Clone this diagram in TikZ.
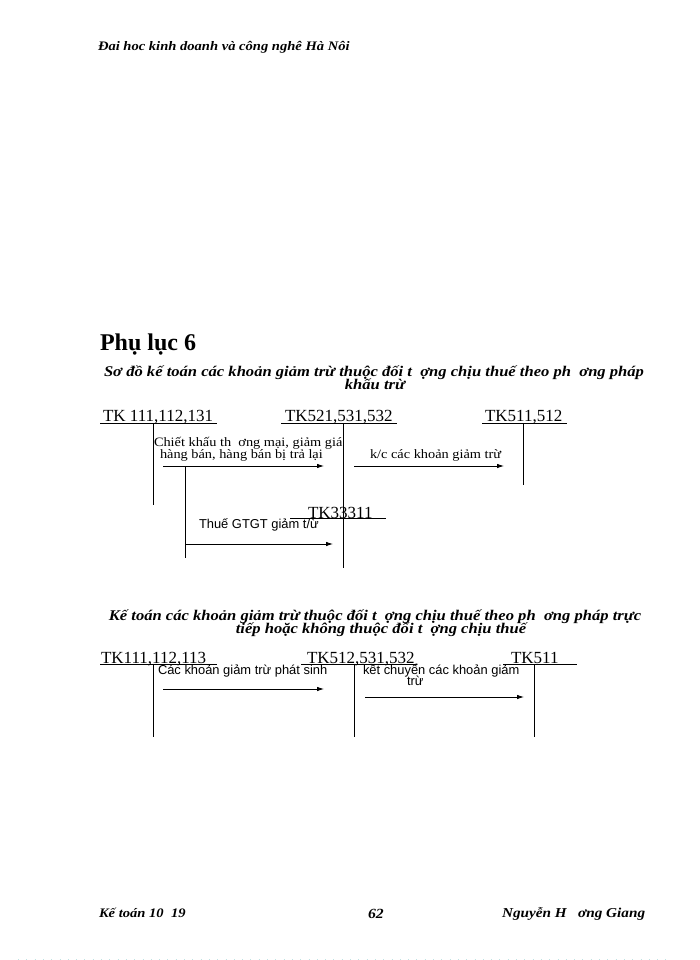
\documentclass[tikz,border=0pt]{standalone}
\usepackage{fontspec}
\setmainfont{Liberation Serif}
\newfontfamily\stf[FakeStretch=1.12]{Liberation Serif}
\newfontfamily\arialf{Liberation Sans}
\usetikzlibrary{arrows.meta}
\definecolor{dotc}{HTML}{BFE3E3}
\begin{document}
\begin{tikzpicture}[x=1pt,y=-1pt,
  every node/.style={inner sep=0pt, outer sep=0pt},
  hdr/.style={anchor=base west, font=\stf\fontsize{13}{14}\selectfont\bfseries\itshape},
  ttl/.style={anchor=base, font=\stf\fontsize{14.8}{14}\selectfont\bfseries\itshape},
  acct/.style={anchor=base west, font=\fontsize{17}{18}\selectfont},
  lbl/.style={anchor=base west, font=\stf\fontsize{12.8}{14}\selectfont},
  slbl/.style={anchor=base west, font=\arialf\fontsize{12.9}{13}\selectfont},
  tline/.style={line width=0.9pt},
  flow/.style={line width=0.8pt, -{Latex[length=7pt,width=4.5pt]}},
]
\useasboundingbox (0,0) rectangle (700,960);

% header
\node[hdr] (head) at (98,51) {Đai hoc kinh doanh và công nghê Hà Nôi};
\node[anchor=base west, font=\fontsize{24}{26}\selectfont\bfseries] (plc) at (100,350) {Phụ lục 6};

% title 1
\node[ttl] (t1a) at (374,376) {Sơ đồ kế toán các khoản giảm trừ thuộc đối t~~ợng chịu thuế theo ph~~ơng pháp};
\node[ttl] (t1b) at (375,389) {khấu trừ};

% diagram 1 accounts
\node[acct] (a1) at (103,421) {TK 111,112,131};
\node[acct] (b1) at (285,421) {TK521,531,532};
\node[acct] (c1) at (485,421) {TK511,512};
\node[acct] (d1) at (308,518) {TK33311};

\draw[tline] (100,423) -- (217,423);
\draw[tline] (153,423) -- (153,505);
\draw[tline] (281,423) -- (397,423);
\draw[tline] (343,423) -- (343,568);
\draw[tline] (482,423) -- (567,423);
\draw[tline] (523,423) -- (523,485);
\draw[tline] (290,518) -- (386,518);

% diagram 1 flows
\node[lbl] (l1a) at (154,446) {Chiết khấu th~~ơng mại, giảm giá};
\node[lbl] (l1b) at (160,458) {hàng bán, hàng bán bị trả lại};
\coordinate (f1s) at (163,466);
\coordinate (f1e) at (324,466);
\draw[flow] (f1s) -- (f1e);

\node[lbl] (l2) at (370,458) {k/c các khoản giảm trừ};
\coordinate (f2s) at (354,466);
\coordinate (f2e) at (504,466);
\draw[flow] (f2s) -- (f2e);

\coordinate (br) at (185,466);
\coordinate (brb) at (185,558);
\draw[tline] (br) -- (brb);
\node[slbl] (l3) at (199,528) {Thuế GTGT giảm t/ừ};
\coordinate (f3s) at (185,544);
\coordinate (f3e) at (333,544);
\draw[flow] (f3s) -- (f3e);

% title 2
\node[ttl] (t2a) at (375,620) {Kế toán các khoản giảm trừ thuộc đối t~~ợng chịu thuế theo ph~~ơng pháp trực};
\node[ttl] (t2b) at (381,633) {tiếp hoặc không thuộc đối t~~ợng chịu thuế};

% diagram 2 accounts
\node[acct] (a2) at (101,663) {TK111,112,113};
\node[acct] (b2) at (307,663) {TK512,531,532};
\node[acct] (c2) at (511,663) {TK511};

\draw[tline] (100,664) -- (217,664);
\draw[tline] (153,664) -- (153,737);
\draw[tline] (301,664) -- (417,664);
\draw[tline] (354,664) -- (354,737);
\draw[tline] (503,664) -- (577,664);
\draw[tline] (534,664) -- (534,737);

\node[slbl] (l4) at (158,674) {Các khoản giảm trừ phát sinh};
\coordinate (f4s) at (163,689);
\coordinate (f4e) at (324,689);
\draw[flow] (f4s) -- (f4e);

\node[slbl] (l5a) at (363,674) {kết chuyển các khoản giảm};
\node[slbl] (l5b) at (407,685) {trừ};
\coordinate (f5s) at (365,697);
\coordinate (f5e) at (524,697);
\draw[flow] (f5s) -- (f5e);

% footer
\node[hdr] (fl) at (99,917) {Kế toán 10~~19};
\node[anchor=base west, font=\stf\fontsize{14}{17}\selectfont\bfseries\itshape] (fc) at (368,918) {62};
\node[hdr, font=\stf\fontsize{13.6}{14}\selectfont\bfseries\itshape] (fr) at (502,917) {Nguyễn H~~~ơng Giang};
\draw[dotc, line width=0.8pt, dash pattern=on 0.8pt off 7.5pt] (18,959) -- (670,959);
\end{tikzpicture}
\end{document}
